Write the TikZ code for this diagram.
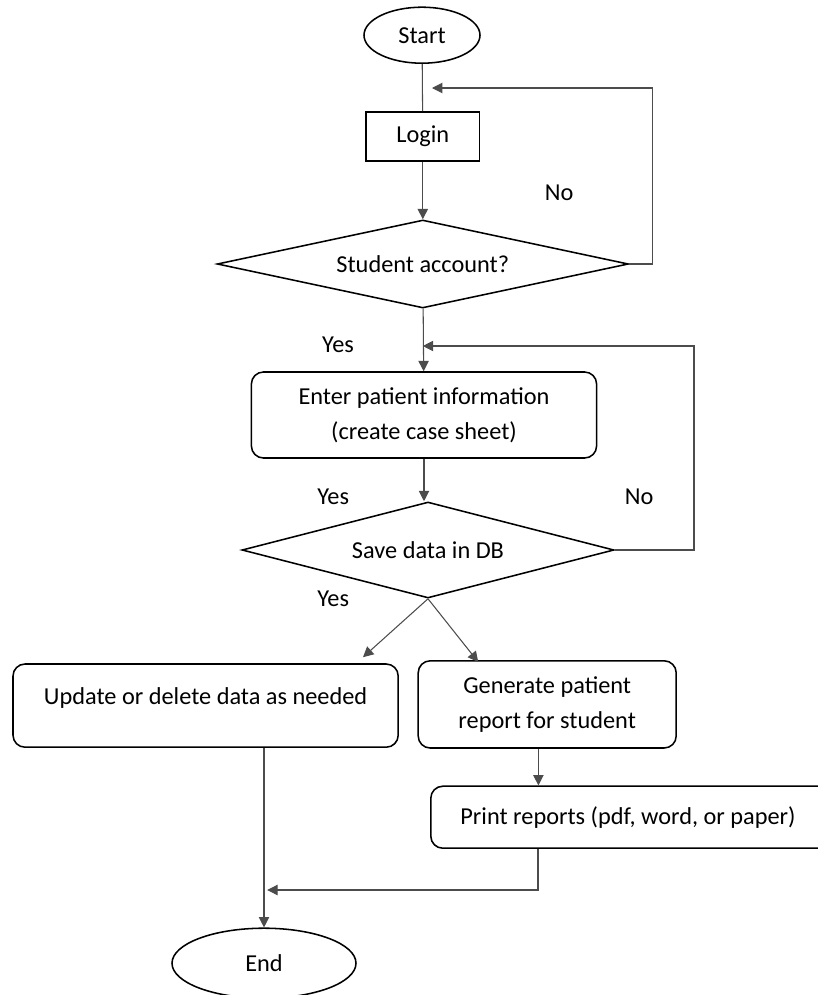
\documentclass[tikz,border=0pt]{standalone}
\usepackage{fontspec}
\setmainfont{Carlito}
\usetikzlibrary{shapes.geometric,arrows.meta}

\begin{document}
\begin{tikzpicture}[
  every node/.style={font=\fontsize{17.3}{24.8}\selectfont},
  term/.style={ellipse, draw, line width=1.1pt, inner sep=0pt},
  box/.style ={rectangle, draw, line width=1.1pt, inner sep=0pt, align=center},
  rbox/.style={box, rounded corners=0.3cm},
  dec/.style ={diamond, draw, line width=1.1pt, inner sep=0pt},
  lnk/.style ={black!70, line width=0.75pt},
  arr/.style ={lnk, -{Triangle[length=2.6mm,width=2.6mm]}},
  lbl/.style ={inner sep=0pt}
]
\useasboundingbox (0,0) rectangle (20.425,-24.875);

%% nodes
\node[term] (start) at (10.55,-0.88) [minimum width=2.9cm, minimum height=1.4cm] {Start};
\node[box]  (login) at (10.57,-3.41) [minimum width=2.83cm, minimum height=1.23cm] {Login};
\node[dec]  (stud)  at (10.57,-6.6)  [minimum width=10.28cm, minimum height=2.2cm, shape aspect=4.67] {Student account?};
\node[rbox] (enter) at (10.6,-10.375) [minimum width=8.63cm, minimum height=2.15cm] {Enter patient information\\(create case sheet)};
\node[dec]  (save)  at (10.7,-13.75) [minimum width=9.3cm, minimum height=2.4cm, shape aspect=3.9] {Save data in DB};
\node[rbox] (upd)   at (5.14,-17.64) [minimum width=9.63cm, minimum height=2.08cm] {Update or delete data as needed\\[-11.4pt]\mbox{}};
\node[rbox] (gen)   at (13.68,-17.61) [minimum width=6.45cm, minimum height=2.18cm] {Generate patient\\report for student};
\node[rbox] (print) at (15.8,-20.43) [minimum width=10.06cm, minimum height=1.55cm] {\hspace*{-0.2cm}Print reports (pdf, word, or paper)};
\node[term] (endn)  at (6.6,-24.08) [minimum width=4.6cm, minimum height=1.75cm] {End};

%% labels
\node[lbl] (no1)  at (13.98,-4.83) {No};
\node[lbl] (yes1) at (8.45,-8.63)  {Yes};
\node[lbl] (yes2) at (8.33,-12.43) {Yes};
\node[lbl] (no2)  at (15.98,-12.43) {No};
\node[lbl] (yes3) at (8.33,-14.98) {Yes};

%% return points
\coordinate (ret1) at (10.8,-2.2);
\coordinate (ret2) at (10.57,-8.65);
\coordinate (join) at (6.68,-22.25);

%% connectors
\draw[lnk] (start) -- (login);
\draw[arr] (login) -- (stud);
\draw[arr] (stud.east) -- ++(0.58,0) |- (ret1);
\draw[arr] (stud) -- (enter);
\draw[arr] (save.east) -- ++(1.98,0) |- (ret2);
\draw[arr] (enter.south) -- (enter.south |- save.north);
\draw[arr] (save.south) -- ([xshift=-0.9cm,yshift=0.15cm]upd.north east);
\draw[arr] (save.south) -- ([xshift=1.52cm,yshift=-0.05cm]gen.north west);
\draw[arr] ([xshift=-0.22cm]gen.south) -- ([xshift=-0.22cm]gen.south |- print.north);
\draw[arr] ([xshift=-2.35cm]print.south) |- (join);
\draw[arr] (endn.north |- upd.south) -- (endn.north);
\end{tikzpicture}
\end{document}
